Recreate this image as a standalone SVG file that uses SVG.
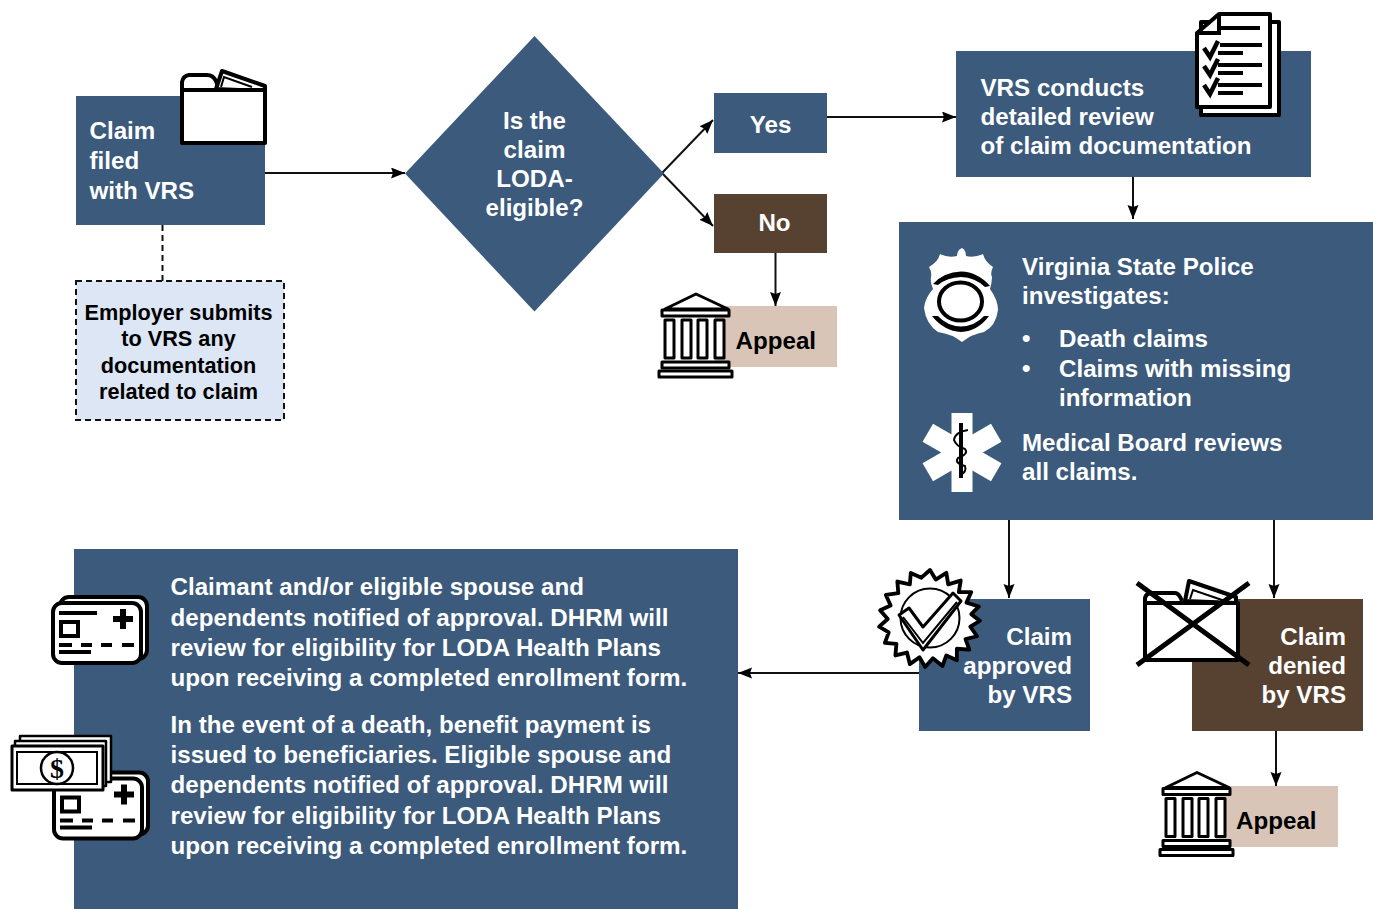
<svg xmlns="http://www.w3.org/2000/svg" width="1373" height="909" viewBox="0 0 1373 909">
<style>
text{font-family:"Liberation Sans",Arial,sans-serif;font-weight:700;font-size:24.170px;fill:#fff}
.k{fill:#000}
.e{font-size:21.7px;text-anchor:middle;fill:#000}
.m{text-anchor:middle}
.r{text-anchor:end}
.b{fill:#3b5a7c}
.br{fill:#574232}
.t{fill:#d8c5b8}
.c{fill:none;stroke:#111;stroke-width:2}
.i{fill:#fff;stroke:#000;stroke-width:4;stroke-linejoin:round}
.n{fill:none;stroke:#000;stroke-width:4}
.f{fill:#000}
</style>
<defs>
<marker id="a" markerUnits="userSpaceOnUse" markerWidth="15" markerHeight="12" refX="14" refY="5.500" orient="auto"><path d="M0 0L14 5.500L0 11L2 5.500Z" fill="#000"/></marker>
<g id="court">
<path class="i" style="stroke-width:3" d="M665 309L696 294L728 309Z"/>
<rect class="i" style="stroke-width:3" x="662" y="310" width="67" height="6"/>
<rect class="i" style="stroke-width:3" x="665" y="320" width="9" height="38"/>
<rect class="i" style="stroke-width:3" x="682" y="320" width="9" height="38"/>
<rect class="i" style="stroke-width:3" x="698" y="320" width="9" height="38"/>
<rect class="i" style="stroke-width:3" x="715" y="320" width="9" height="38"/>
<rect class="i" style="stroke-width:3" x="662" y="362" width="67" height="6"/>
<rect class="i" style="stroke-width:3" x="659" y="371" width="73" height="6"/>
</g>
<g id="card">
<rect class="i" x="60" y="597" width="87" height="62" rx="9"/>
<rect class="i" x="53" y="603" width="88" height="60" rx="9"/>
<path class="n" d="M59 613H97M59 645H72M81 645H92M101 645H112M122 645H134M59 652H91"/>
<rect class="n" x="61" y="622" width="17" height="14"/>
<path class="n" style="stroke-width:6" d="M113 619H133M123 609V629"/>
</g>
</defs>

<g id="connectors">
<path class="c" marker-end="url(#a)" d="M265 173H405"/>
<path class="c" stroke-dasharray="6 4" d="M162.500 225V281"/>
<path class="c" marker-end="url(#a)" d="M662 173L713 120"/>
<path class="c" marker-end="url(#a)" d="M662 173L713 226"/>
<path class="c" marker-end="url(#a)" d="M827 117H956"/>
<path class="c" marker-end="url(#a)" d="M775.500 253V306"/>
<path class="c" marker-end="url(#a)" d="M1133 177V219"/>
<path class="c" marker-end="url(#a)" d="M1009 518V598"/>
<path class="c" marker-end="url(#a)" d="M1274 518V598"/>
<path class="c" marker-end="url(#a)" d="M920 673H738"/>
<path class="c" marker-end="url(#a)" d="M1276 731V786"/>
</g>

<g id="claim-filed">
<rect class="b" x="76" y="96" width="189" height="129"/>
<text x="89.500" y="139">Claim</text><text x="89.500" y="169">filed</text><text x="89.500" y="199">with VRS</text>
<path class="n" d="M182 91V82Q183 76 189 75H207Q213 75 216 81L219 89"/>
<path class="i" d="M216 89L222 71L265 86V91Z"/>
<path class="n" style="stroke-width:2" d="M221 87L224 77L252 87"/>
<rect class="i" x="182" y="90" width="83" height="53"/>
</g>

<g id="employer">
<rect x="76" y="281" width="208" height="139" fill="#dce6f4" stroke="#111" stroke-width="2" stroke-dasharray="6 4"/>
<text class="e" x="178.500" y="319.500">Employer submits</text><text class="e" x="178.500" y="346">to VRS any</text><text class="e" x="178.500" y="372.500">documentation</text><text class="e" x="178.500" y="398.500">related to claim</text>
</g>

<g id="decision">
<path class="b" d="M534.500 36L664 173.500L534.500 311.500L405 173.500Z"/>
<text class="m" x="534.500" y="129">Is the</text><text class="m" x="534.500" y="158">claim</text><text class="m" x="534.500" y="187">LODA-</text><text class="m" x="534.500" y="216">eligible?</text>
</g>

<g id="yes"><rect class="b" x="714" y="93" width="113" height="60"/><text class="m" x="770.500" y="133">Yes</text></g>
<g id="no"><rect class="br" x="714" y="194" width="113" height="59"/><text class="m" x="774.500" y="231">No</text></g>

<g id="appeal-1">
<rect class="t" x="715" y="306" width="122" height="61"/>
<use href="#court"/>
<text class="k" x="735.500" y="349">Appeal</text>
</g>

<g id="review">
<rect class="b" x="956" y="51" width="355" height="126"/>
<text x="980.500" y="96">VRS conducts</text><text x="980.500" y="125">detailed review</text><text x="980.500" y="154">of claim documentation</text>
<rect class="i" x="1201" y="22" width="78" height="93"/>
<path class="i" d="M1197 33L1219 14H1270V107H1197Z"/>
<path class="n" d="M1197 33H1219V14"/>
<path class="n" d="M1220 28H1260M1220 45H1262M1218 53H1243M1218 65H1262M1218 73H1243M1218 85H1262M1218 93H1243"/>
<path class="n" style="stroke-width:4.500" d="M1204 48L1210 57L1218 41M1204 66L1210 75L1218 59M1204 85L1210 94L1218 78"/>
</g>

<g id="investigation">
<rect class="b" x="899" y="222" width="474" height="298"/>
<path fill="#fff" d="M962 248Q966 250 966 256Q974 258 983 254Q985 262 993 267Q990 273 992 277Q992 282 990 289Q998 300 998 310Q996 326 984 332Q972 334 962 342Q952 334 938 332Q926 324 924 308Q925 298 933 289Q930 282 931 277Q932 272 929 267Q938 262 940 254Q948 258 957 256Q957 250 962 248Z"/>
<ellipse cx="960.500" cy="301.500" rx="21.500" ry="19" fill="none" stroke="#000" stroke-width="4"/>
<path fill="#000" d="M933 284Q944 272 961 271.500Q978 272 990 286L985 287Q975 277.500 961 277Q947 277.500 938 285ZM932 316L938 316Q947 326 961 326.500Q975 326 984 316L989 316Q978 331 961 332Q944 331 932 316Z"/>
<rect x="951.500" y="413" width="21" height="79" fill="#fff"/>
<rect x="951.500" y="413" width="21" height="79" fill="#fff" transform="rotate(60 962 452.500)"/>
<rect x="951.500" y="413" width="21" height="79" fill="#fff" transform="rotate(-60 962 452.500)"/>
<path fill="none" stroke="#000" stroke-width="4" d="M961 423V478"/>
<path fill="none" stroke="#000" stroke-width="2" d="M968 430Q955 432 954 440Q956 446 965 449Q969 454 958 458Q954 463 965 466Q967 472 960 475"/>
<text x="1022" y="275">Virginia State Police</text><text x="1022" y="304">investigates:</text>
<text x="1022" y="347">•</text><text x="1059" y="347">Death claims</text>
<text x="1022" y="377">•</text><text x="1059" y="377">Claims with missing</text><text x="1059" y="406">information</text>
<text x="1022" y="451">Medical Board reviews</text><text x="1022" y="480">all claims.</text>
</g>

<g id="approved">
<rect class="b" x="919" y="599" width="171" height="132"/>
<text class="r" x="1072" y="645">Claim</text><text class="r" x="1072" y="674">approved</text><text class="r" x="1072" y="703">by VRS</text>
<path class="i" transform="translate(930 618) scale(.96) translate(-930 -618)" d="M930 568L936 578L947 571L949 583L962 579L960 591L973 591L968 602L981 606L973 614L982 621L972 627L979 637L967 640L971 651L958 650L958 662L947 657L943 668L933 660L925 669L919 659L909 666L906 654L894 657L895 645L883 644L887 633L877 627L886 619L878 610L889 605L884 594L897 592L896 580L909 583L910 571L921 576Z"/>
<circle cx="930" cy="618" r="29.500" fill="#fff" stroke="#000" stroke-width="2"/>
<path class="i" style="stroke-width:3" d="M899 615L909 608L923 627L953 593L961 601L923 650Z"/>
<path class="n" style="stroke-width:2" d="M903 617L923 643L957 602"/>
</g>

<g id="denied">
<rect class="br" x="1192" y="599" width="171" height="132"/>
<text class="r" x="1346" y="645">Claim</text><text class="r" x="1346" y="674">denied</text><text class="r" x="1346" y="703">by VRS</text>
<path class="n" d="M1145 603V598Q1146 594 1150 593H1175Q1179 593 1182 601"/>
<path class="i" d="M1185 601L1189 581L1236 597V603Z"/>
<path class="n" style="stroke-width:2" d="M1190 599L1193 590L1225 601"/>
<rect class="i" x="1145" y="603" width="93" height="57"/>
<path class="n" style="stroke-width:5" d="M1137 583L1249 665M1249 583L1137 665"/>
</g>

<g id="appeal-2">
<rect class="t" x="1216" y="786" width="122" height="61"/>
<use href="#court" x="501" y="478.500"/>
<text class="k" x="1236" y="829">Appeal</text>
</g>

<g id="outcome">
<rect class="b" x="74" y="549" width="664" height="360"/>
<text x="170.500" y="595">Claimant and/or eligible spouse and</text>
<text x="170.500" y="626">dependents notified of approval. DHRM will</text>
<text x="170.500" y="656">review for eligibility for LODA Health Plans</text>
<text x="170.500" y="686">upon receiving a completed enrollment form.</text>
<text x="170.500" y="733">In the event of a death, benefit payment is</text>
<text x="170.500" y="763">issued to beneficiaries. Eligible spouse and</text>
<text x="170.500" y="793">dependents notified of approval. DHRM will</text>
<text x="170.500" y="824">review for eligibility for LODA Health Plans</text>
<text x="170.500" y="854">upon receiving a completed enrollment form.</text>
<use href="#card"/>
<use href="#card" x="1" y="175.500"/>
<rect class="i" style="stroke-width:2.500" x="20" y="736" width="91" height="46"/>
<rect class="i" style="stroke-width:2.500" x="15" y="741" width="91" height="45"/>
<rect class="i" style="stroke-width:3" x="12" y="746" width="91" height="44"/>
<rect fill="#fff" stroke="#000" stroke-width="2" x="17" y="752" width="80" height="32"/>
<circle cx="57" cy="768" r="16" fill="#fff" stroke="#000" stroke-width="2.500"/>
<text class="k m" x="57" y="778" style="font-family:'Liberation Serif',serif;font-size:28px">$</text>
</g>
</svg>
